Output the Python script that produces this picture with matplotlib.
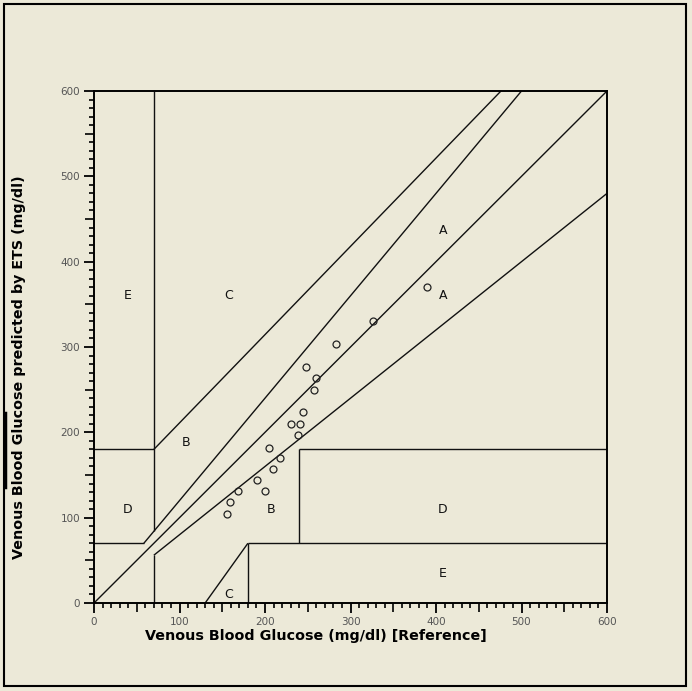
import numpy as np
import matplotlib
matplotlib.use("Agg")
import matplotlib.pyplot as plt
from matplotlib.ticker import MultipleLocator, FixedLocator
from matplotlib.lines import Line2D
from matplotlib.patches import Rectangle

# measured points (reference vs ETS prediction, mg/dl)
ref = [390, 326, 283, 248, 260, 257, 244, 230, 241, 239, 205, 218, 209, 191, 200, 168, 159, 156]
pred = [370, 330, 303, 277, 264, 250, 224, 210, 210, 197, 182, 170, 157, 144, 131, 131, 118, 104]

# error grid boundaries, (x0, x1), (y0, y1)
grid_x = [(0, 600), (0, 58.3), (58.3, 500), (70, 70), (0, 70), (70, 476), (70, 70),
          (70, 600), (180, 180), (180, 600), (240, 240), (240, 600), (130, 180)]
grid_y = [(0, 600), (70, 70), (70, 600), (84, 600), (180, 180), (180, 600), (0, 56),
          (56, 480), (0, 70), (70, 70), (70, 180), (180, 180), (0, 70)]

zone_names = ["A", "A", "B", "B", "C", "C", "D", "D", "E", "E"]
zone_x = [408, 408, 108, 207, 158, 158, 39, 408, 39, 408]
zone_y = [437, 360, 188, 109, 360, 10, 109, 109, 360, 35]

bg = "#ECE9D8"
fig = plt.figure(figsize=(6.92, 6.91), dpi=100, facecolor=bg)
ax = fig.add_axes([94 / 692, 1 - 603 / 691, 513 / 692, 512 / 691])
ax.set_facecolor(bg)

for xs, ys in zip(grid_x, grid_y):
    ax.plot(xs, ys, color="#111111", lw=1.0, solid_capstyle="butt")

ax.plot(ref, pred, "o", mfc="none", mec="#222222", ms=5, mew=0.9, clip_on=False)

for name, x, y in zip(zone_names, zone_x, zone_y):
    ax.text(x, y, name, ha="center", va="center", fontsize=9, color="#111111")

ax.set_xlim(0, 600)
ax.set_ylim(0, 600)
for s in ax.spines.values():
    s.set_linewidth(1.4)
    s.set_color("#000000")

minor_locs = [v for v in range(0, 601, 10) if v % 100 != 0]
ax.xaxis.set_major_locator(MultipleLocator(100))
ax.yaxis.set_major_locator(MultipleLocator(100))
ax.xaxis.set_minor_locator(FixedLocator(minor_locs))
ax.yaxis.set_minor_locator(FixedLocator(minor_locs))
ax.tick_params(which="major", direction="out", length=7, width=1.3, color="#000000",
               labelsize=7.5, labelcolor="#555555", pad=3)
ax.tick_params(which="minor", direction="out", length=3.5, width=1.2, color="#000000")

# half-way ticks (50, 150, ...) are longer than the others
for axis in (ax.xaxis, ax.yaxis):
    for loc, tick in zip(minor_locs, axis.get_minor_ticks()):
        if loc % 50 == 0:
            tick.tick1line.set_markersize(6.5)

ax.set_xlabel("Venous Blood Glucose (mg/dl) [Reference]", fontsize=10.3, fontweight="bold")
ax.xaxis.set_label_coords(0.432, -0.05)
ax.set_ylabel("Venous Blood Glucose predicted by ETS (mg/dl)", fontsize=10.3, fontweight="bold")
ax.yaxis.set_label_coords(-0.133, 0.46)

# outer frame of the window
fig.add_artist(Rectangle((4 / 692, 1 - 686 / 691), 682 / 692, 682 / 691, transform=fig.transFigure,
                         fill=False, edgecolor="#000000", lw=1.5))
fig.add_artist(Line2D([5 / 692, 5 / 692], [1 - 487 / 691, 1 - 413 / 691], transform=fig.transFigure,
                      color="#000000", lw=2.5))

fig.savefig("out.png", dpi=100, facecolor=bg)
